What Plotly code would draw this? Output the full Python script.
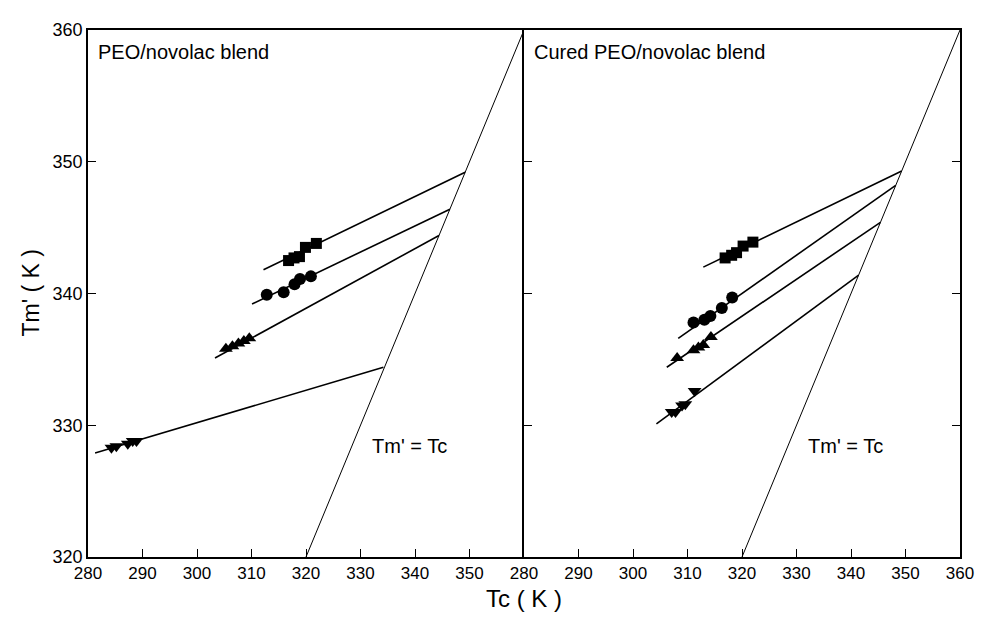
import plotly.graph_objects as go

# ---------------- data ----------------
# Left panel: PEO/novolac blend
L_sq_tc = [316.8, 317.8, 318.8, 319.9, 321.9]
L_sq_tm = [342.5, 342.7, 342.8, 343.5, 343.8]
L_ci_tc = [312.8, 315.9, 317.9, 318.9, 320.9]
L_ci_tm = [339.9, 340.1, 340.7, 341.1, 341.3]
L_tu_tc = [305.3, 306.5, 307.6, 308.6, 309.6]
L_tu_tm = [335.8, 336.0, 336.2, 336.4, 336.6]
L_td_tc = [284.3, 285.2, 287.3, 288.2, 288.9]
L_td_tm = [328.3, 328.4, 328.6, 328.8, 328.8]

# fitted lines (start Tc, end Tc, start Tm', end Tm')
L_fit_x0 = [312.2, 310.1, 303.3, 281.3]
L_fit_x1 = [349.2, 346.4, 344.4, 334.2]
L_fit_y0 = [341.8, 339.2, 335.1, 327.9]
L_fit_y1 = [349.2, 346.4, 344.4, 334.4]

# Right panel: cured PEO/novolac blend
R_sq_tc = [316.9, 318.1, 319.0, 320.2, 322.0]
R_sq_tm = [342.7, 342.9, 343.1, 343.6, 343.9]
R_ci_tc = [311.1, 313.1, 314.2, 316.3, 318.2]
R_ci_tm = [337.8, 338.0, 338.3, 338.9, 339.7]
R_tu_tc = [308.1, 311.1, 312.0, 312.9, 314.3]
R_tu_tm = [335.1, 335.7, 335.9, 336.1, 336.7]
R_td_tc = [307.1, 307.8, 309.0, 309.6, 311.3]
R_td_tm = [331.0, 331.0, 331.5, 331.6, 332.6]

R_fit_x0 = [312.9, 308.3, 306.2, 304.3]
R_fit_x1 = [349.3, 348.2, 345.4, 341.4]
R_fit_y0 = [342.0, 336.6, 334.4, 330.1]
R_fit_y1 = [349.3, 348.2, 345.4, 341.4]

# Tm' = Tc line
eq_tc = [320, 360]
eq_tm = [320, 360]

y_ticks = [320, 330, 340, 350, 360]
xL_ticks = [280, 290, 300, 310, 320, 330, 340, 350]
xR_ticks = [280, 290, 300, 310, 320, 330, 340, 350, 360]

# ---------------- figure ----------------
fig = go.Figure()

def add_panel(xa, ya, sets, fx0, fx1, fy0, fy1):
    for i in range(len(fx0)):
        fig.add_trace(go.Scatter(x=[fx0[i], fx1[i]], y=[fy0[i], fy1[i]], mode="lines",
                                 line=dict(color="black", width=1.6), xaxis=xa, yaxis=ya,
                                 showlegend=False, hoverinfo="skip"))
    fig.add_trace(go.Scatter(x=eq_tc, y=eq_tm, mode="lines",
                             line=dict(color="black", width=1.0), xaxis=xa, yaxis=ya,
                             showlegend=False, hoverinfo="skip"))
    for (xs, ys, sym, sz) in sets:
        fig.add_trace(go.Scatter(x=xs, y=ys, mode="markers",
                                 marker=dict(symbol=sym, size=sz, color="black"),
                                 xaxis=xa, yaxis=ya, showlegend=False))

add_panel("x", "y",
          [(L_sq_tc, L_sq_tm, "square", 11), (L_ci_tc, L_ci_tm, "circle", 12),
           (L_tu_tc, L_tu_tm, "triangle-up", 12), (L_td_tc, L_td_tm, "triangle-down", 12)],
          L_fit_x0, L_fit_x1, L_fit_y0, L_fit_y1)
add_panel("x2", "y2",
          [(R_sq_tc, R_sq_tm, "square", 11), (R_ci_tc, R_ci_tm, "circle", 12),
           (R_tu_tc, R_tu_tm, "triangle-up", 12), (R_td_tc, R_td_tm, "triangle-down", 12)],
          R_fit_x0, R_fit_x1, R_fit_y0, R_fit_y1)

narrow = "Liberation Sans Narrow, Arial Narrow, Liberation Sans, Arial"
xtickfont = dict(family=narrow, size=17, color="black")
ytickfont = dict(family="Liberation Sans, Arial", size=18, color="black")
axcommon = dict(showgrid=False, zeroline=False, showline=True, linecolor="black", linewidth=1.5,
                ticks="inside", ticklen=8, tickwidth=1.2, tickcolor="black")

# the page has an 8px body margin, so the figure is 978x604 to fit the 986x620 window
fig.update_layout(
    width=978, height=604,
    margin=dict(l=80, r=19, t=14, b=55),
    paper_bgcolor="white", plot_bgcolor="white",
    xaxis=dict(domain=[0, 0.5], range=[280, 360], tickvals=xL_ticks, mirror=True,
               anchor="y", tickfont=xtickfont, **axcommon),
    xaxis2=dict(domain=[0.5, 1], range=[280, 360], tickvals=xR_ticks, mirror=True,
                anchor="y2", tickfont=xtickfont, **axcommon),
    yaxis=dict(range=[320, 360], tickvals=y_ticks, mirror=False, anchor="x",
               tickfont=ytickfont, **axcommon),
    yaxis2=dict(range=[320, 360], tickvals=y_ticks, mirror="ticks", showticklabels=False,
                anchor="x2", tickfont=ytickfont, **axcommon),
)

lab = dict(family="Liberation Sans, Arial", size=20, color="black")
fig.add_annotation(x=281.5, y=358.3, xref="x", yref="y", text="PEO/novolac blend",
                   showarrow=False, xanchor="left", yanchor="middle", font=lab)
fig.add_annotation(x=281.5, y=358.3, xref="x2", yref="y2", text="Cured PEO/novolac blend",
                   showarrow=False, xanchor="left", yanchor="middle", font=lab)
fig.add_annotation(x=331.7, y=328.4, xref="x", yref="y", text="Tm' = Tc",
                   showarrow=False, xanchor="left", yanchor="middle", font=lab)
fig.add_annotation(x=331.7, y=328.4, xref="x2", yref="y2", text="Tm' = Tc",
                   showarrow=False, xanchor="left", yanchor="middle", font=lab)

fig.add_annotation(x=0.5, y=0, xref="paper", yref="paper", yshift=-41, text="Tc ( K )",
                   showarrow=False, xanchor="center", yanchor="middle",
                   font=dict(family=narrow, size=24, color="black"))
fig.add_annotation(x=0, y=0.5, xref="paper", yref="paper", xshift=-58, text="Tm' ( K )",
                   showarrow=False, xanchor="center", yanchor="middle", textangle=-90,
                   font=dict(family="Liberation Sans, Arial", size=23, color="black"))

fig.write_html("out.html")
